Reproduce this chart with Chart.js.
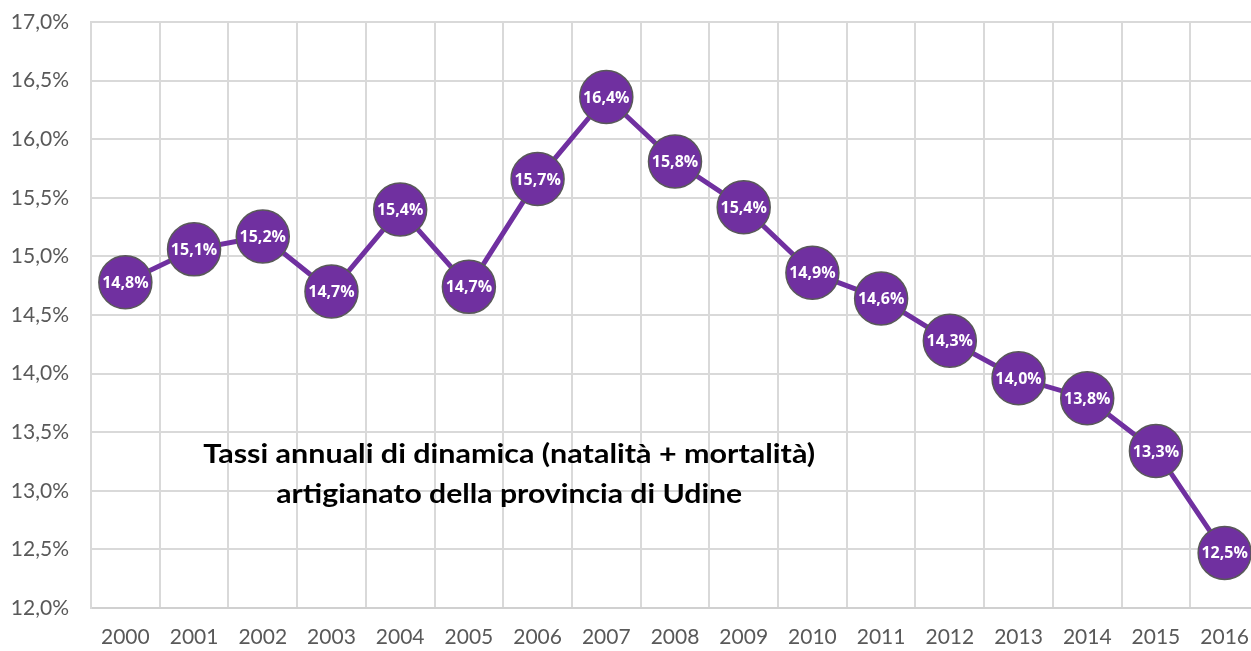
<!DOCTYPE html>
<html>
<head>
<meta charset="utf-8">
<script src="https://cdn.jsdelivr.net/npm/chart.js@4"></script>
<style>
  html, body { margin: 0; padding: 0; background: #fff; overflow: hidden; }
  #wrap { width: 1251px; height: 651px; overflow: hidden; }
</style>
</head>
<body>
<div id="wrap"><canvas id="myChart" width="1259" height="651"></canvas></div>
<script>
const anni = ["2000", "2001", "2002", "2003", "2004", "2005", "2006", "2007", "2008",
  "2009", "2010", "2011", "2012", "2013", "2014", "2015", "2016"];
// tassi annuali di dinamica (%)
const tassi = [14.78, 15.06, 15.17, 14.70, 15.40, 14.74, 15.66, 16.36, 15.81,
  15.42, 14.86, 14.64, 14.28, 13.96, 13.79, 13.34, 12.47];
const titolo = ["Tassi annuali di dinamica (natalità + mortalità)",
  "artigianato della provincia di Udine"];

const viola = "#7030A0";
const fmt = (v) => v.toFixed(1).replace(".", ",") + "%";

// etichette bianche dentro i cerchi + titolo dentro l'area
const etichette = {
  id: "etichette",
  afterDatasetsDraw(chart) {
    const c = chart.ctx;
    const meta = chart.getDatasetMeta(0);
    c.save();
    c.fillStyle = "#fff";
    c.font = "bold 16px 'Open Sans', sans-serif";
    c.textAlign = "center";
    c.textBaseline = "middle";
    meta.data.forEach((p, i) => c.fillText(fmt(tassi[i]), p.x, p.y + 1));
    const xs = chart.scales.x, ys = chart.scales.y;
    const cx = (xs.getPixelForValue(5) + xs.getPixelForValue(6)) / 2 + 6;
    c.fillStyle = "#000";
    c.font = "bold 27px Lato, sans-serif";
    titolo.forEach((t, i) => {
      const y = ys.getPixelForValue(i === 0 ? 13.31 : 12.97);
      const w = c.measureText(t).width;
      const target = i === 0 ? 612 : 466;
      c.save();
      c.translate(cx, y);
      c.scale(target / w, 1);
      c.fillText(t, 0, 0);
      c.restore();
    });
    c.restore();
  },
};

new Chart(document.getElementById("myChart"), {
  type: "line",
  data: {
    labels: anni,
    datasets: [{
      data: tassi,
      borderColor: viola,
      borderWidth: 5,
      backgroundColor: viola,
      pointBackgroundColor: viola,
      pointBorderColor: "#595959",
      pointBorderWidth: 1.5,
      pointRadius: 26.5,
      pointHoverRadius: 26.5,
      tension: 0,
      clip: false,
    }],
  },
  options: {
    responsive: false,
    animation: false,
    events: [],
    layout: { autoPadding: false, padding: { top: 22, right: 0, left: 0, bottom: 0 } },
    plugins: { legend: { display: false }, tooltip: { enabled: false } },
    scales: {
      x: {
        offset: true,
        grid: { offset: true, color: "#d9d9d9", lineWidth: 2, drawTicks: false },
        border: { color: "#d0d0d0", width: 2 },
        ticks: { color: "#595959", font: { family: "Lato, sans-serif", size: 21 }, padding: 17 },
        afterFit: (s) => {
          s.height = 43;
          s.paddingLeft = 0;
          s.paddingRight = 0;
        },
      },
      y: {
        min: 12,
        max: 17,
        grid: { color: "#d9d9d9", lineWidth: 2, drawTicks: false },
        border: { color: "#d9d9d9", width: 2 },
        ticks: {
          stepSize: 0.5,
          color: "#595959",
          padding: 22,
          font: { family: "Lato, sans-serif", size: 21 },
          callback: (v) => fmt(v),
        },
        afterFit: (s) => {
          s.width = 91;
          s.paddingTop = 0;
          s.paddingBottom = 0;
        },
      },
    },
  },
  plugins: [etichette],
});
</script>
</body>
</html>
